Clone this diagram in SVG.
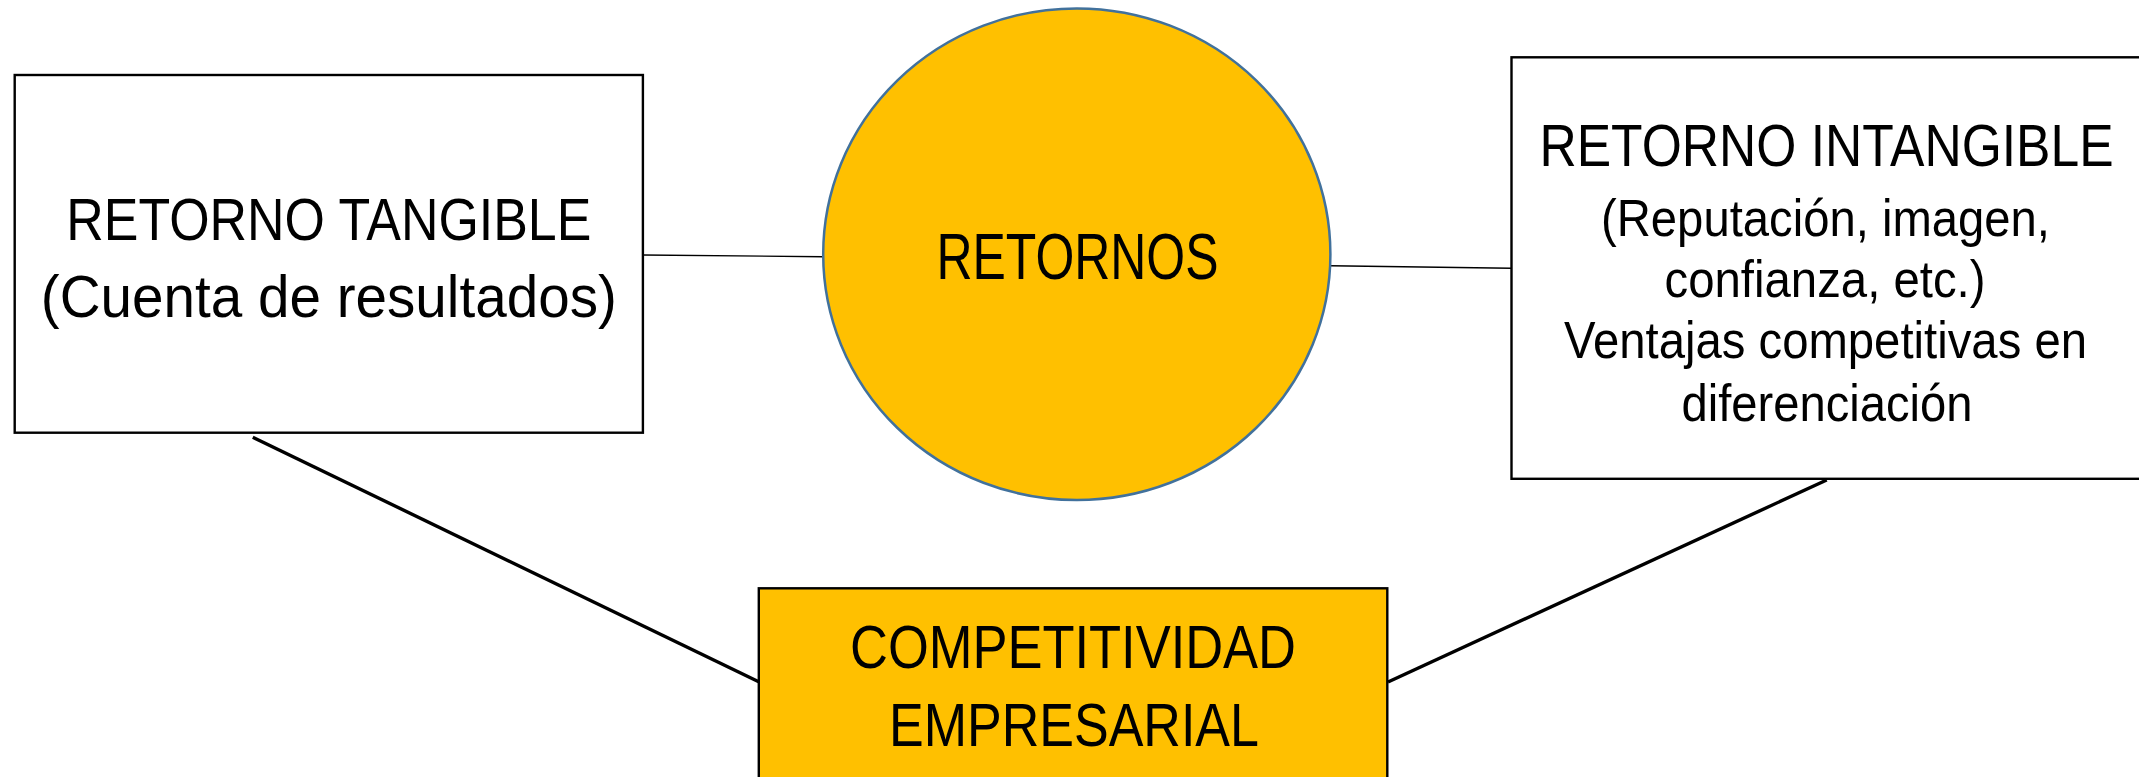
<svg xmlns="http://www.w3.org/2000/svg" width="2139" height="777" viewBox="0 0 2139 777">
<style>
.box{stroke:#000;stroke-width:2.4}
.white{fill:#fff}
.gold{fill:#FFC000}
.t{font-family:"Liberation Sans Narrow","Liberation Sans",Arial,sans-serif;fill:#000;text-anchor:middle}
.thin{stroke:#000;stroke-width:1.4;fill:none}
.thick{stroke:#000;stroke-width:3.4;fill:none}
</style>
<rect width="2139" height="777" fill="#fff"/>
<g id="connectors">
<line class="thin" x1="643" y1="255" x2="823" y2="256.7"/>
<line class="thin" x1="1330.4" y1="265.7" x2="1511.5" y2="268.3"/>
<line class="thick" x1="252.8" y1="437.3" x2="758.7" y2="681.7"/>
<line class="thick" x1="1826.7" y1="480" x2="1388" y2="682"/>
</g>
<g id="retorno-tangible">
<rect class="box white" x="14.7" y="75" width="628.2" height="357.7"/>
<text class="t" x="328.8" y="239.5" font-size="60" textLength="525" lengthAdjust="spacingAndGlyphs">RETORNO TANGIBLE</text>
<text class="t" x="328.8" y="317" font-size="60" textLength="576" lengthAdjust="spacingAndGlyphs">(Cuenta de resultados)</text>
</g>
<g id="retornos">
<ellipse cx="1076.8" cy="254.2" rx="253.6" ry="245.8" fill="#FFC000" stroke="#41719C" stroke-width="2.5"/>
<text class="t" x="1077.5" y="278.5" font-size="64" textLength="282" lengthAdjust="spacingAndGlyphs">RETORNOS</text>
</g>
<g id="retorno-intangible">
<rect class="box white" x="1511.5" y="57.3" width="640" height="421.5"/>
<text class="t" transform="translate(1826.5 165.5) scale(0.86 1)" x="0" y="0" font-size="60">RETORNO INTANGIBLE</text>
<text class="t" x="1825.5" y="236" font-size="52" textLength="449" lengthAdjust="spacingAndGlyphs">(Reputación, imagen,</text>
<text class="t" x="1825" y="297" font-size="52" textLength="321" lengthAdjust="spacingAndGlyphs">confianza, etc.)</text>
<text class="t" x="1825.5" y="358" font-size="52" textLength="523" lengthAdjust="spacingAndGlyphs">Ventajas competitivas en</text>
<text class="t" x="1827" y="421" font-size="52" textLength="291" lengthAdjust="spacingAndGlyphs">diferenciación</text>
</g>
<g id="competitividad">
<rect class="box gold" x="758.8" y="588.3" width="628.5" height="220"/>
<text class="t" x="1073" y="668.3" font-size="62" textLength="446" lengthAdjust="spacingAndGlyphs">COMPETITIVIDAD</text>
<text class="t" x="1074" y="745.7" font-size="62" textLength="370" lengthAdjust="spacingAndGlyphs">EMPRESARIAL</text>
</g>
</svg>
